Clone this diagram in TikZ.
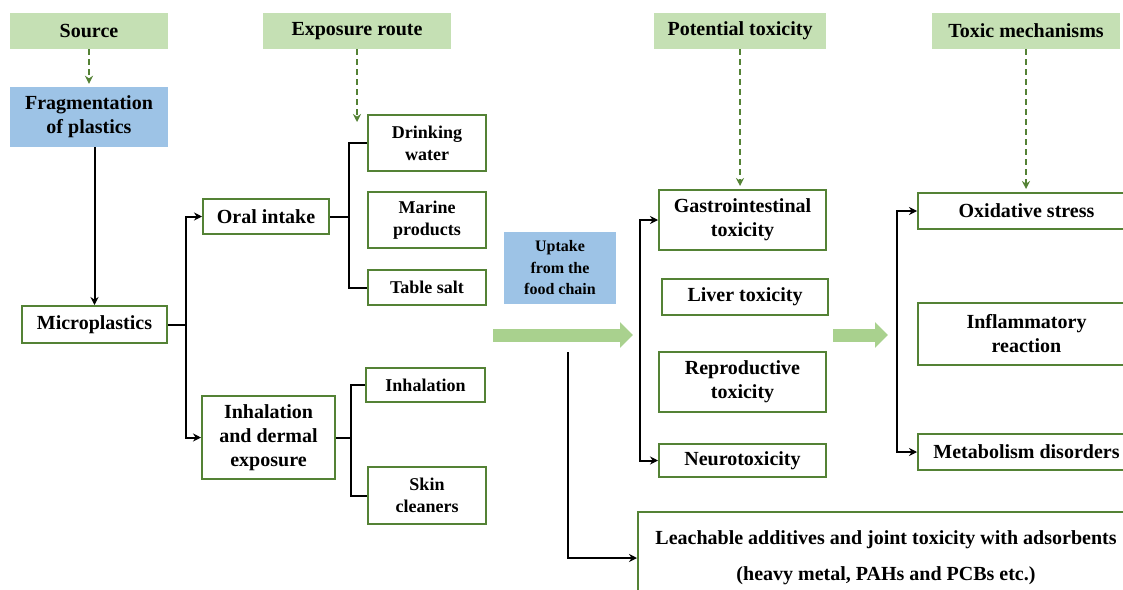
\documentclass[tikz,border=0pt]{standalone}
\usepackage{fontspec}
\setmainfont{Liberation Serif}
\usepackage{tikz}
\usetikzlibrary{arrows.meta,calc}
\definecolor{headgreen}{RGB}{197, 224, 180}
\definecolor{boxgreen}{RGB}{84, 130, 53}
\definecolor{fillblue}{RGB}{157, 195, 230}
\definecolor{flowgreen}{RGB}{169, 209, 142}

\begin{document}
\begin{tikzpicture}[x=1pt, y=-1pt,
    every node/.style={font=\bfseries\fontsize{20}{24}\selectfont, align=center, inner sep=0pt},
    header/.style={fill=headgreen, minimum height=36pt},
    bluebox/.style={fill=fillblue},
    gbox/.style={draw=boxgreen, line width=2pt, fill=white},
    small/.style={font=\bfseries\fontsize{18}{22}\selectfont},
    link/.style={line width=2pt, -{Stealth[length=8pt,width=8pt]}},
    guide/.style={boxgreen, line width=2pt, dash pattern=on 6pt off 4pt, -{Stealth[length=8pt,width=8pt]}},
    flow/.style={flowgreen, line width=13pt, -{Triangle[length=13pt,width=25pt]}}]
        \fill[white] (0,0) rectangle (1123,589);
        \useasboundingbox (0,0) rectangle (1123,589);

        % Column headers
        \node[header, minimum width=158pt] (src) at (89,31) {Source};
        \node[header, minimum width=188pt] (expo) at (357,31) {Exposure route};
        \node[header, minimum width=172pt] (ptox) at (740,31) {Potential toxicity};
        \node[header, minimum width=188pt] (tmech) at (1026,31) {Toxic mechanisms};

        % Source
        \node[bluebox, minimum width=158pt, minimum height=60pt] (frag) at (89,117) {Fragmentation\\of plastics};
        \node[gbox, minimum width=145pt, minimum height=37pt] (micro) at (94.5,324.5) {Microplastics};

        % Exposure routes
        \node[gbox, minimum width=126pt, minimum height=35pt] (oral) at (266,216.5) {Oral intake};
        \node[gbox, minimum width=133pt, minimum height=83pt] (inhd) at (268.5,437.5) {Inhalation\\and dermal\\exposure};
        \node[gbox, small, minimum width=118pt, minimum height=56pt] (drink) at (427,143) {Drinking\\water};
        \node[gbox, small, minimum width=118pt, minimum height=56pt] (marine) at (427,220) {Marine\\products};
        \node[gbox, small, minimum width=118pt, minimum height=35pt] (salt) at (427,287.5) {Table salt};
        \node[gbox, small, minimum width=119pt, minimum height=34pt] (inhal) at (425.5,385) {Inhalation};
        \node[gbox, small, minimum width=118pt, minimum height=57pt] (skin) at (427,495.5) {Skin\\cleaners};

        \node[bluebox, font=\bfseries\fontsize{16}{21.5}\selectfont, minimum width=112pt, minimum height=72pt] (uptake) at (560,268) {Uptake\\from the\\food chain};

        % Potential toxicity
        \node[gbox, minimum width=167pt, minimum height=60pt] (gastro) at (742.5,220) {Gastrointestinal\\toxicity};
        \node[gbox, minimum width=166pt, minimum height=36pt] (liver) at (745,297) {Liver toxicity};
        \node[gbox, minimum width=167pt, minimum height=60pt] (repro) at (742.5,382) {Reproductive\\toxicity};
        \node[gbox, minimum width=167pt, minimum height=33pt] (neuro) at (742.5,460.5) {Neurotoxicity};

        % Toxic mechanisms
        \node[gbox, minimum width=217pt, minimum height=36pt] (oxid) at (1026.5,211) {Oxidative stress};
        \node[gbox, minimum width=217pt, minimum height=62pt] (infl) at (1026.5,334) {Inflammatory\\reaction};
        \node[gbox, minimum width=217pt, minimum height=36pt] (metab) at (1026.5,452) {Metabolism disorders};

        \node[gbox, font=\bfseries\fontsize{20}{36}\selectfont, minimum width=496pt, minimum height=92pt] (leach) at (886,558)
          {Leachable additives and joint toxicity with adsorbents\\(heavy metal, PAHs and PCBs etc.)};

        % Dashed guides
        \draw[guide] (src.south) -- ($(frag.north)+(0,-3)$);
        \coordinate (expoend) at (357,122);
        \draw[guide] (expo.south) -- (expoend);
        \draw[guide] (ptox.south) -- ($(ptox.south |- gastro.north)+(0,-3)$);
        \draw[guide] (tmech.south) -- ($(tmech.south |- oxid.north)+(0,-3)$);

        % Links
        \draw[link] (frag.south -| micro) -- (micro.north);
        \draw[line width=2pt] (micro.east) -- ++(18,0) coordinate (j1);
        \draw[link] (j1) |- (oral.west);
        \draw[link] (j1) |- (inhd.west);
        \draw[line width=2pt] (oral.east) -- ++(19,0) coordinate (j2);
        \draw[line width=2pt] (drink.west) -| (j2) |- (salt.west);
        \draw[line width=2pt] (inhd.east) -- ++(15,0) coordinate (j3);
        \draw[line width=2pt] (inhal.west) -| (j3) |- (skin.west);
        \coordinate (j5) at (640,340);
        \draw[link] (j5) |- (gastro.west);
        \draw[link] (j5) |- (neuro.west);
        \coordinate (j6) at (897,330);
        \draw[link] (j6) |- (oxid.west);
        \draw[link] (j6) |- (metab.west);
        \coordinate (lstart) at (568,352);
        \draw[link] (lstart) |- (leach.west);

        % Flow arrows
        \coordinate (f1) at (493,335);
        \coordinate (f2) at (633,335);
        \coordinate (f3) at (833,335);
        \coordinate (f4) at (888,335);
        \draw[flow] (f1) -- (f2);
        \draw[flow] (f3) -- (f4);
      \end{tikzpicture}
\end{document}
